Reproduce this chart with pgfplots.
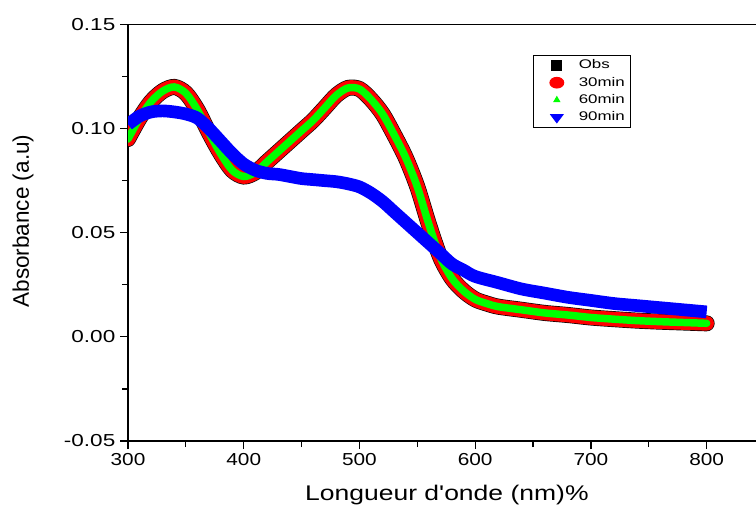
\documentclass[border=0pt]{standalone}
\usepackage{fontspec}
\setmainfont{Liberation Sans}
\newfontfamily\tickfont{Liberation Sans}[FakeStretch=1.2]
\newfontfamily\ytickfont{Liberation Sans}[FakeStretch=1.3]
\newfontfamily\xlabfont{Liberation Sans}[FakeStretch=1.25]
\newfontfamily\legfont{Liberation Sans}[FakeStretch=1.35]
\usepackage{pgfplots}
\pgfplotsset{compat=1.18}
\usepackage{pgfplotstable}
\definecolor{cred}{RGB}{255,0,0}
\definecolor{cgreen}{RGB}{0,255,0}
\definecolor{cblue}{RGB}{0,0,255}

\pgfplotstableread{
x y
300 0.095
310 0.105
320 0.113
330 0.118
340 0.120
350 0.117
360 0.109
370 0.098
380 0.088
390 0.080
400 0.077
410 0.079
420 0.084
430 0.089
440 0.094
450 0.099
460 0.104
470 0.110
480 0.116
490 0.1195
500 0.119
510 0.114
520 0.107
530 0.097
540 0.086
550 0.072
560 0.054
570 0.038
580 0.028
590 0.022
600 0.018
610 0.016
620 0.0145
640 0.013
660 0.0115
680 0.0105
700 0.0093
720 0.0085
740 0.0078
760 0.0073
780 0.0069
800 0.0065
}\obsdata

\pgfplotstableread{
x y
300 0.102
310 0.106
320 0.108
330 0.1085
340 0.108
350 0.107
360 0.105
370 0.100
380 0.094
390 0.088
400 0.083
410 0.080
420 0.0785
430 0.078
440 0.077
450 0.076
460 0.0755
470 0.075
480 0.0745
490 0.0735
500 0.072
510 0.069
520 0.065
530 0.060
540 0.055
550 0.050
560 0.045
570 0.040
580 0.035
590 0.032
600 0.029
620 0.026
640 0.023
660 0.021
680 0.019
700 0.0175
720 0.016
740 0.015
760 0.014
780 0.013
800 0.012
}\ninetydata

\begin{document}
\begin{tikzpicture}
\begin{axis}[
  at={(96pt,47.25pt)}, anchor=south west,
  scale only axis,
  width=477.4pt, height=312.4pt,
  xmin=300, xmax=850, ymin=-0.05, ymax=0.15,
  xtick={300,400,...,800},
  ytick={-0.05,0,0.05,0.1,0.15},
  minor x tick num=1, minor y tick num=1,
  tick pos=left, tick align=outside,
  major tick length=6pt, minor tick length=4.5pt,
  axis line style={line width=0.9pt},
  every tick/.style={line width=0.9pt, black},
  scaled y ticks=false,
  /pgf/number format/assume math mode=true,
  xticklabel style={font=\tickfont\fontsize{13}{15}\selectfont},
  yticklabel style={font=\ytickfont\fontsize{13}{15}\selectfont, /pgf/number format/.cd, fixed, fixed zerofill, precision=2},
  xlabel={Longueur d'onde (nm)\%},
  ylabel={Absorbance (a.u)},
  xlabel style={font=\xlabfont\fontsize{15.9}{18}\selectfont, at={(axis description cs:0.501,-0.142)}, anchor=base},
  ylabel style={font=\fontsize{16.9}{19}\selectfont, at={(axis description cs:-0.165,0.528)}, anchor=center},
  legend cell align=left,
  legend image code/.code={\path (0cm,-0.1cm) (1.03cm,0.1cm); \draw[#1] plot coordinates {(0.536cm,0cm)};},
  legend style={at={(axis description cs:0.636,0.927)}, anchor=north west,
    draw=black, line width=0.75pt,
    font=\legfont\fontsize{9.4}{11}\selectfont,
    inner xsep=2pt, inner ysep=1pt,
    nodes={text height=7pt, text depth=2pt, inner ysep=2pt}},
]
\addplot[black, line width=12pt, smooth, line cap=round, forget plot] table[x=x,y=y] {\obsdata};
\addplot[cred, line width=11pt, smooth, line cap=round, forget plot] table[x=x,y=y] {\obsdata};
\addplot[cgreen, line width=5.6pt, smooth, line cap=round, forget plot] table[x=x,y=y] {\obsdata};
\addplot[cblue, line width=9.5pt, smooth, line cap=butt, forget plot] table[x=x,y=y] {\ninetydata};

\addlegendimage{only marks, mark=square*, black, mark size=3.75pt, line width=0pt}
\addlegendentry{Obs}
\addlegendimage{only marks, mark=*, cred, mark size=4pt, mark options={xscale=1.3, draw=cred, fill=cred}}
\addlegendentry{30min}
\addlegendimage{only marks, mark=triangle*, cgreen, mark size=2.5pt, mark options={draw=cgreen, fill=cgreen}}
\addlegendentry{60min}
\addlegendimage{only marks, mark=triangle*, cblue, mark size=4pt, mark options={rotate=180, xscale=1.3, draw=cblue, fill=cblue}}
\addlegendentry{90min}
\end{axis}
\pgfresetboundingbox
\useasboundingbox (0,0) rectangle (567pt,378pt);
\end{tikzpicture}
\end{document}
